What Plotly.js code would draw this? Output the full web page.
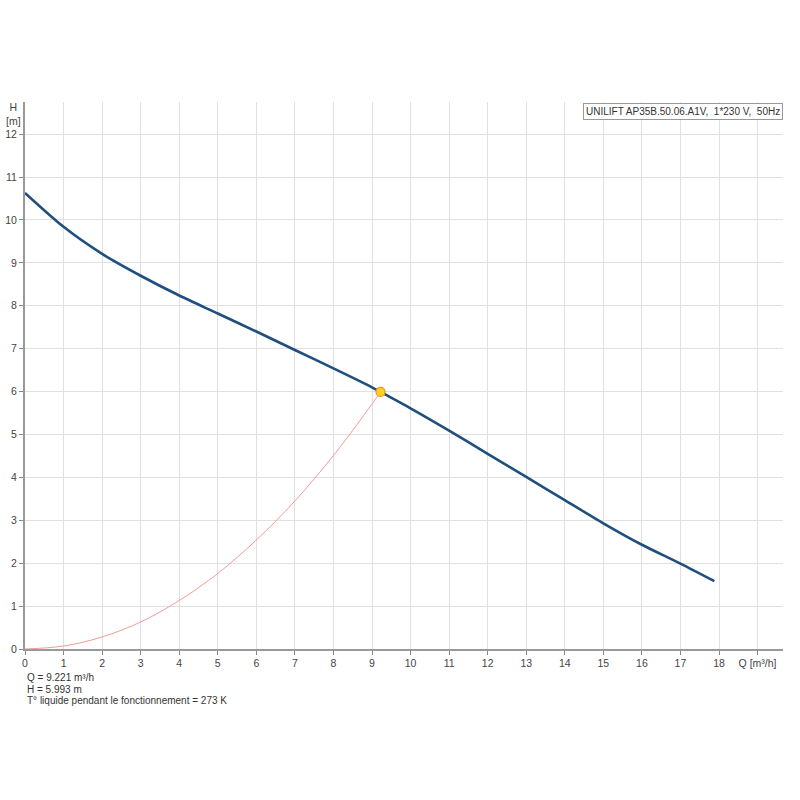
<!DOCTYPE html>
<html>
<head>
<meta charset="utf-8">
<script src="https://cdn.plot.ly/plotly-3.0.1.min.js"></script>
<style>
html,body{margin:0;padding:0;background:#fff;}
#chart{width:800px;height:800px;}
</style>
</head>
<body>
<div id="chart"></div>
<script>
// Pump curve (Q in m³/h, H in m)
const pumpQ = [0, 1, 2, 3, 4, 5, 6, 7, 8, 9, 9.221, 10, 11, 12, 13, 14, 15, 16, 17, 17.88];
const pumpH = [10.63, 9.84, 9.21, 8.70, 8.24, 7.82, 7.40, 6.97, 6.54, 6.10, 5.993, 5.61, 5.09, 4.55, 4.01, 3.47, 2.93, 2.43, 1.99, 1.58];

// System curve
const sysQ = [0, 1, 2, 3, 4, 5, 6, 7, 8, 9, 9.221];
const sysH = [0, 0.07, 0.28, 0.63, 1.13, 1.76, 2.54, 3.45, 4.51, 5.71, 5.993];

// Duty point
const dutyQ = [9.221];
const dutyH = [5.993];

// Axis ticks
const xTickVals = [0,1,2,3,4,5,6,7,8,9,10,11,12,13,14,15,16,17,18,19];
const xTickText = ['0','1','2','3','4','5','6','7','8','9','10','11','12','13','14','15','16','17','18','Q [m³/h]'];
const yTickVals = [0,1,2,3,4,5,6,7,8,9,10,11,12];

const title = 'UNILIFT AP35B.50.06.A1V,  1*230 V,  50Hz';
const infoLines = ['Q = 9.221 m³/h', 'H = 5.993 m', 'T° liquide pendant le fonctionnement = 273 K'];

const font = {family: 'Liberation Sans, Arial, sans-serif', size: 10.5, color: '#444'};
const smallFont = {family: 'Liberation Sans, Arial, sans-serif', size: 10, color: '#333'};

const traces = [
  {x: sysQ, y: sysH, mode: 'lines', line: {color: '#f49a9a', width: 1, shape: 'spline'}, hoverinfo: 'skip'},
  {x: pumpQ, y: pumpH, mode: 'lines', line: {color: '#1f4f7e', width: 2.6, shape: 'spline', smoothing: 0.8}, hoverinfo: 'skip'},
  {x: dutyQ, y: dutyH, mode: 'markers', marker: {color: '#ffd21f', size: 9, line: {color: '#f0901e', width: 1.2}}, hoverinfo: 'skip'}
];

const annotations = [
  {xref: 'paper', yref: 'paper', x: 0, y: 1, xshift: -12, yshift: 3, xanchor: 'center', yanchor: 'top', showarrow: false,
   text: 'H<br>[m]', font: font, align: 'center'},
  {xref: 'paper', yref: 'paper', x: 1, y: 1, xshift: 0, yshift: -1, xanchor: 'right', yanchor: 'top', showarrow: false,
   text: title, font: smallFont, bordercolor: '#999', borderwidth: 1, borderpad: 2, bgcolor: '#fff'}
];
infoLines.forEach((t, i) => {
  annotations.push({xref: 'paper', yref: 'paper', x: 0, y: 0, xshift: 0, yshift: -21 - i * 11.5, xanchor: 'left', yanchor: 'top',
    showarrow: false, text: t, font: smallFont});
});

const layout = {
  width: 800, height: 800,
  margin: {l: 25, r: 17, t: 102, b: 151},
  paper_bgcolor: '#fff', plot_bgcolor: '#fff',
  showlegend: false,
  font: font,
  xaxis: {
    range: [0, 19.66], tickvals: xTickVals, ticktext: xTickText,
    showgrid: true, gridcolor: '#e0e0e0', gridwidth: 1,
    showline: true, linecolor: '#999', linewidth: 1.5,
    ticks: 'outside', ticklen: 4, tickcolor: '#888',
    zeroline: false, tickfont: font, fixedrange: true
  },
  yaxis: {
    range: [0, 12.75], tickvals: yTickVals,
    showgrid: true, gridcolor: '#e0e0e0', gridwidth: 1,
    showline: true, linecolor: '#999', linewidth: 2,
    ticks: 'outside', ticklen: 4, tickcolor: '#888',
    zeroline: false, tickfont: font, fixedrange: true
  },
  annotations: annotations
};

Plotly.newPlot('chart', traces, layout, {displayModeBar: false, staticPlot: true});
</script>
</body>
</html>
